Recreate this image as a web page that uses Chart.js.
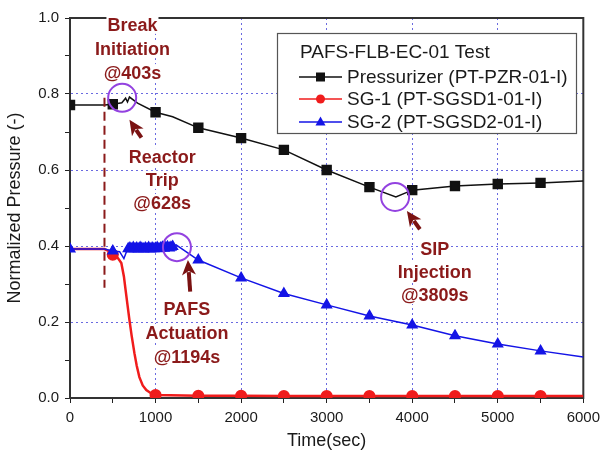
<!DOCTYPE html>
<html lang="en">
<head>
<meta charset="UTF-8">
<title>PAFS-FLB-EC-01 Test</title>
<script src="https://cdn.jsdelivr.net/npm/chart.js"></script>
<style>
  html, body { margin: 0; padding: 0; background: #fff; }
  #wrap { width: 606px; height: 458px; }
</style>
</head>
<body>
<div id="wrap"><canvas id="grafico" width="606" height="458"></canvas></div>
<script>
// Pressurizer (PT-PZR-01-I)
const timePzr = [0, 200, 403, 500, 606, 650, 672, 695, 790, 1000, 1200, 1500, 2000, 2500, 3000, 3500, 3809, 4000, 4500, 5000, 5500, 6000];
const pzr     = [0.771, 0.771, 0.771, 0.773, 0.777, 0.789, 0.779, 0.792, 0.776, 0.752, 0.740, 0.711, 0.684, 0.653, 0.600, 0.555, 0.529, 0.547, 0.558, 0.563, 0.566, 0.571];

// SG-1 (PT-SGSD1-01-I)
const timeSg1 = [0, 403, 450, 500, 560, 600, 630, 650, 675, 695, 720, 753, 780, 811, 850, 892, 950, 1000, 1500, 2000, 2500, 3000, 3500, 4000, 4500, 5000, 5500, 6000];
const sg1     = [0.392, 0.392, 0.387, 0.377, 0.368, 0.355, 0.320, 0.284, 0.240, 0.205, 0.165, 0.118, 0.085, 0.055, 0.033, 0.021, 0.012, 0.008, 0.006, 0.006, 0.005, 0.005, 0.005, 0.005, 0.005, 0.005, 0.005, 0.005];

// SG-2 (PT-SGSD2-01-I)
const timeSg2 = [0, 403, 500, 580, 630, 660, 680, 700, 720, 740, 760, 780, 800, 820, 840, 860, 880, 900, 920, 940, 960, 980, 1000, 1020, 1040, 1060, 1080, 1100, 1120, 1140, 1160, 1180, 1200, 1240, 1500, 2000, 2500, 3000, 3500, 4000, 4500, 5000, 5500, 6000];
const sg2     = [0.392, 0.392, 0.387, 0.385, 0.367, 0.385, 0.393, 0.395, 0.392, 0.396, 0.393, 0.395, 0.392, 0.396, 0.394, 0.392, 0.395, 0.393, 0.396, 0.392, 0.395, 0.393, 0.394, 0.396, 0.393, 0.395, 0.397, 0.394, 0.396, 0.398, 0.395, 0.397, 0.399, 0.403, 0.363, 0.316, 0.275, 0.245, 0.216, 0.192, 0.164, 0.142, 0.124, 0.108];

const seriesNames = ['Pressurizer (PT-PZR-01-I)', 'SG-1 (PT-SGSD1-01-I)', 'SG-2 (PT-SGSD2-01-I)'];
const legendTitle = 'PAFS-FLB-EC-01 Test';

// eventos anotados
const breakTime = 403;
const noteText = [['Break', 'Initiation', '@403s'], ['Reactor', 'Trip', '@628s'], ['PAFS', 'Actuation', '@1194s'], ['SIP', 'Injection', '@3809s']];
const noteX = [730, 1077, 1367, 4263];
const noteY = [[0.982, 0.918, 0.855], [0.634, 0.574, 0.513], [0.234, 0.171, 0.108], [0.392, 0.332, 0.271]];
const circleX = [610, 1250, 3800];
const circleY = [0.790, 0.397, 0.529];
const arrowFrom = [[835, 0.685], [1405, 0.280], [4090, 0.444]];
const arrowTo   = [[695, 0.732], [1378, 0.363], [3938, 0.492]];

const FONT = '"Liberation Sans", Arial, sans-serif';
const BLACK = '#111111', RED = '#f01c1c', BLUE = '#1414e6';
const DARKRED = '#8b1a1a', PURPLE = '#9342e0';

function pontos(ts, vs) {
    return ts.map((t, i) => ({ x: t, y: vs[i] }));
}

// marcador a cada 500 s (e na zona densa do SG-2)
function marcador(r, densa, desde) {
    return function(c) {
        if (!c.raw) return 0;
        const t = c.raw.x;
        if (t < desde) return 0;
        if (t % 500 === 0 && t < 6000) return r;
        if (densa && t >= 680 && t <= 1200) return r;
        return 0;
    };
}

const frame = {
    id: 'frame',
    beforeDatasetsDraw(chart) {
        const a = chart.chartArea, ctx = chart.ctx;
        ctx.save();
        ctx.strokeStyle = '#333';
        ctx.lineWidth = 2;
        ctx.strokeRect(a.left, a.top, a.right - a.left, a.bottom - a.top);
        ctx.restore();
    }
};

function seta(ctx, x1, y1, x2, y2) {
    const ang = Math.atan2(y2 - y1, x2 - x1);
    const len = 15, w = 7;
    const c = Math.cos(ang), s = Math.sin(ang);
    const bx = x2 - len * c, by = y2 - len * s;
    ctx.beginPath();
    ctx.moveTo(x1, y1);
    ctx.lineTo(bx + 3 * c, by + 3 * s);
    ctx.lineWidth = 4;
    ctx.stroke();
    ctx.beginPath();
    ctx.moveTo(x2, y2);
    ctx.lineTo(bx + w * s, by - w * c);
    ctx.lineTo(x2 - (len - 4) * c, y2 - (len - 4) * s);
    ctx.lineTo(bx - w * s, by + w * c);
    ctx.closePath();
    ctx.fill();
}

const anotacoes = {
    id: 'anotacoes',
    afterDatasetsDraw(chart) {
        const ctx = chart.ctx, xs = chart.scales.x, ys = chart.scales.y;
        ctx.save();
        // linha de ruptura
        ctx.strokeStyle = DARKRED;
        ctx.lineWidth = 2;
        ctx.setLineDash([9, 5]);
        ctx.beginPath();
        ctx.moveTo(xs.getPixelForValue(breakTime), ys.getPixelForValue(0.79));
        ctx.lineTo(xs.getPixelForValue(breakTime), ys.getPixelForValue(0.29));
        ctx.stroke();
        ctx.setLineDash([]);

        // textos
        ctx.font = 'bold 18px ' + FONT;
        ctx.textAlign = 'center';
        ctx.textBaseline = 'middle';
        noteText.forEach((linhas, i) => {
            const px = xs.getPixelForValue(noteX[i]);
            linhas.forEach((txt, j) => {
                const py = ys.getPixelForValue(noteY[i][j]);
                const w = ctx.measureText(txt).width;
                ctx.fillStyle = '#fff';
                ctx.fillRect(px - w / 2 - 1, py - 9, w + 2, 18);
                ctx.fillStyle = DARKRED;
                ctx.fillText(txt, px, py + 1);
            });
        });

        // circulos
        ctx.strokeStyle = PURPLE;
        ctx.lineWidth = 2;
        circleX.forEach((t, i) => {
            ctx.beginPath();
            ctx.arc(xs.getPixelForValue(t), ys.getPixelForValue(circleY[i]), 14, 0, Math.PI * 2);
            ctx.stroke();
        });

        // setas
        ctx.strokeStyle = '#7a1212';
        ctx.fillStyle = '#7a1212';
        arrowFrom.forEach((p, i) => {
            seta(ctx, xs.getPixelForValue(p[0]), ys.getPixelForValue(p[1]),
                 xs.getPixelForValue(arrowTo[i][0]), ys.getPixelForValue(arrowTo[i][1]));
        });
        ctx.restore();
    }
};

const legenda = {
    id: 'legenda',
    afterDraw(chart) {
        const ctx = chart.ctx;
        const x0 = 277, y0 = 33, w = 299, h = 100;
        ctx.save();
        ctx.fillStyle = '#fff';
        ctx.fillRect(x0, y0, w, h);
        ctx.strokeStyle = '#555';
        ctx.lineWidth = 1.2;
        ctx.strokeRect(x0 + 0.5, y0 + 0.5, w, h);
        ctx.font = '19px ' + FONT;
        ctx.textBaseline = 'middle';
        ctx.textAlign = 'left';
        ctx.fillStyle = '#1a1a1a';
        ctx.fillText(legendTitle, 300, 53);
        const cores = [BLACK, RED, BLUE];
        const linhasY = [77, 99, 122];
        seriesNames.forEach((nome, i) => {
            const y = linhasY[i];
            ctx.strokeStyle = cores[i];
            ctx.fillStyle = cores[i];
            ctx.lineWidth = 1.5;
            ctx.beginPath();
            ctx.moveTo(299, y);
            ctx.lineTo(342, y);
            ctx.stroke();
            ctx.beginPath();
            if (i === 0) {
                ctx.rect(316, y - 4.5, 9, 9);
            } else if (i === 1) {
                ctx.arc(320.5, y, 4.5, 0, Math.PI * 2);
            } else {
                ctx.moveTo(320.5, y - 5.5);
                ctx.lineTo(325.5, y + 3.5);
                ctx.lineTo(315.5, y + 3.5);
                ctx.closePath();
            }
            ctx.fill();
            ctx.fillStyle = '#1a1a1a';
            ctx.fillText(nome, 347, y + 1);
        });
        ctx.restore();
    }
};

const gridColor = v => (v % 1000 === 0 ? '#6a6ae0' : 'rgba(0,0,0,0)');

new Chart(document.getElementById('grafico'), {
    type: 'line',
    data: {
        datasets: [
            {
                label: seriesNames[0],
                data: pontos(timePzr, pzr),
                borderColor: BLACK,
                backgroundColor: BLACK,
                borderWidth: 1.5,
                pointStyle: 'rect',
                pointRadius: marcador(6.3, false, 0),
                pointHoverRadius: 0,
                order: 0
            },
            {
                label: seriesNames[1],
                data: pontos(timeSg1, sg1),
                borderColor: RED,
                backgroundColor: RED,
                borderWidth: 2.5,
                pointStyle: 'circle',
                pointRadius: marcador(4.8, false, 500),
                pointHoverRadius: 0,
                order: 2
            },
            {
                label: seriesNames[2],
                data: pontos(timeSg2, sg2),
                borderColor: BLUE,
                backgroundColor: BLUE,
                borderWidth: 1.5,
                pointStyle: 'triangle',
                pointRadius: marcador(5.5, true, 0),
                pointHoverRadius: 0,
                order: 1
            }
        ]
    },
    options: {
        responsive: false,
        animation: false,
        devicePixelRatio: 1,
        parsing: false,
        layout: { padding: { top: 18, right: 18, left: 0, bottom: 0 } },
        plugins: { legend: { display: false }, tooltip: { enabled: false } },
        elements: { line: { tension: 0 }, point: { borderWidth: 0 } },
        scales: {
            x: {
                type: 'linear',
                min: 0,
                max: 6000,
                afterFit: s => { s.height = 60; },
                ticks: {
                    stepSize: 500,
                    autoSkip: false,
                    maxRotation: 0,
                    padding: 6,
                    color: '#1a1a1a',
                    font: { family: FONT, size: 15 },
                    callback: v => (v % 1000 === 0 ? String(v) : '')
                },
                grid: {
                    color: c => gridColor(c.tick ? c.tick.value : 1),
                    lineWidth: 1,
                    tickColor: '#222',
                    tickLength: 5,
                    drawTicks: true
                },
                border: { color: '#333', width: 2, dash: [2, 3] },
                title: { display: true, text: 'Time(sec)', color: '#1a1a1a', font: { family: FONT, size: 18 }, padding: { top: 4, bottom: 6 } }
            },
            y: {
                type: 'linear',
                min: 0,
                max: 1.0,
                afterFit: s => { s.width = 70; },
                ticks: {
                    stepSize: 0.1,
                    autoSkip: false,
                    padding: 6,
                    color: '#1a1a1a',
                    font: { family: FONT, size: 15 },
                    callback: v => (Math.round(v * 10) % 2 === 0 ? v.toFixed(1) : '')
                },
                grid: {
                    color: c => (c.tick && Math.round(c.tick.value * 10) % 2 === 0 ? '#6a6ae0' : 'rgba(0,0,0,0)'),
                    lineWidth: 1,
                    tickColor: '#222',
                    tickLength: 5
                },
                border: { color: '#333', width: 2, dash: [2, 3] },
                title: { display: true, text: 'Normalized Pressure (-)', color: '#1a1a1a', font: { family: FONT, size: 18 }, padding: { top: 4, bottom: 4 } }
            }
        }
    },
    plugins: [frame, anotacoes, legenda]
});
</script>
</body>
</html>
